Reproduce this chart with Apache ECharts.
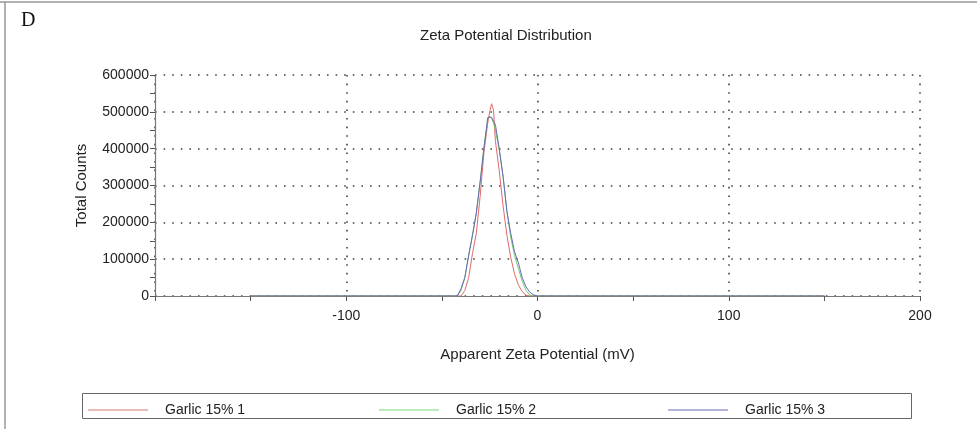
<!DOCTYPE html>
<html>
<head>
<meta charset="utf-8">
<script src="https://cdn.jsdelivr.net/npm/echarts@6/dist/echarts.min.js"></script>
<style>
  html, body { margin: 0; padding: 0; background: #fff; }
  #chart { width: 977px; height: 429px; }
</style>
</head>
<body>
<div id="chart"></div>
<script>
// Apparent zeta potential (mV) sample points
const potential = [-150, -44, -42, -40, -38, -36, -34, -32, -30, -28, -26, -25, -24, -23, -22, -20, -18, -16, -14, -12, -10, -8, -6, -4, -2, 0, 150];

// Total counts for each run
const run1 = [0, 0, 0, 0, 15000, 50000, 115000, 170000, 270000, 390000, 470000, 500000, 522000, 505000, 420000, 340000, 245000, 165000, 105000, 60000, 30000, 12000, 2000, 0, 0, 0, 0];
const run2 = [0, 0, 0, 15000, 50000, 110000, 165000, 225000, 310000, 405000, 480000, 488000, 482000, 470000, 450000, 395000, 325000, 230000, 160000, 110000, 75000, 40000, 15000, 2000, 0, 0, 0];
const run3 = [0, 0, 0, 20000, 50000, 110000, 165000, 225000, 310000, 400000, 485000, 485000, 485000, 485000, 465000, 400000, 325000, 230000, 170000, 120000, 90000, 50000, 25000, 10000, 3000, 0, 0];

const seriesNames = ['Garlic 15% 1', 'Garlic 15% 2', 'Garlic 15% 3'];
const seriesColors = ['#e06a6a', '#6ccc6c', '#6a6ab8'];
const legendColors = ['#e8a4a4', '#a4e4a4', '#9c9cd0'];

const xTicks = { min: -200, max: 200, interval: 100 };
const yTicks = { min: 0, max: 600000, interval: 100000 };

const pairs = v => potential.map((x, i) => [x, v[i]]);
const runs = [run1, run2, run3];

const chart = echarts.init(document.getElementById('chart'), null, { renderer: 'canvas' });

// sparse square dots for the grid
const dotted = { color: '#444', width: 1.6, type: [1.6, 7], cap: 'butt' };
const font = 'Liberation Sans, Arial, sans-serif';

chart.setOption({
  animation: false,
  backgroundColor: '#fff',
  title: {
    text: 'Zeta Potential Distribution',
    left: 415, top: 23,
    textStyle: { fontFamily: font, fontSize: 15, fontWeight: 'normal', color: '#222' }
  },
  grid: { left: 155, right: 57, top: 75, bottom: 133 },
  xAxis: {
    type: 'value',
    min: xTicks.min, max: xTicks.max, interval: xTicks.interval,
    name: 'Apparent Zeta Potential (mV)',
    nameLocation: 'middle', nameGap: 51,
    nameTextStyle: { fontFamily: font, fontSize: 15, color: '#222' },
    axisLine: { show: true, onZero: false, lineStyle: { color: '#777', width: 1.2 } },
    axisTick: { show: true, length: 5, lineStyle: { color: '#555' } },
    minorTick: { show: true, splitNumber: 2, length: 5, lineStyle: { color: '#555' } },
    axisLabel: {
      fontFamily: font, fontSize: 14, color: '#222', margin: 13,
      formatter: v => (v === xTicks.min ? '' : String(v))
    },
    splitLine: { show: true, lineStyle: dotted }
  },
  yAxis: {
    type: 'value',
    min: yTicks.min, max: yTicks.max, interval: yTicks.interval,
    name: 'Total Counts',
    nameLocation: 'middle', nameGap: 66, nameRotate: 90,
    nameTextStyle: { fontFamily: font, fontSize: 15, color: '#222' },
    axisLine: { show: true, onZero: false, lineStyle: { color: '#777', width: 1.2 } },
    axisTick: { show: true, length: 5, lineStyle: { color: '#555' } },
    minorTick: { show: true, splitNumber: 2, length: 5, lineStyle: { color: '#555' } },
    axisLabel: { fontFamily: font, fontSize: 14, color: '#222', margin: 6, formatter: v => String(v) },
    splitLine: { show: true, lineStyle: dotted }
  },
  legend: seriesNames.map((name, i) => ({
    data: [{ name, itemStyle: { color: legendColors[i] } }],
    left: [83, 374, 663][i], top: 398,
    icon: 'rect', itemWidth: 60, itemHeight: 1.5,
    textStyle: { fontFamily: font, fontSize: 14, color: '#222', padding: [0, 0, 0, 12] },
    selectedMode: false
  })),
  series: runs.map((v, i) => ({
    name: seriesNames[i],
    type: 'line',
    data: pairs(v),
    symbol: 'none',
    lineStyle: { color: seriesColors[i], width: 1 },
    itemStyle: { color: seriesColors[i] }
  })),
  graphic: [
    { type: 'line', shape: { x1: 0, y1: 2, x2: 977, y2: 2 }, style: { stroke: '#999', lineWidth: 1.5 } },
    { type: 'line', shape: { x1: 5, y1: 2, x2: 5, y2: 429 }, style: { stroke: '#999', lineWidth: 1.5 } },
    { type: 'rect', shape: { x: 82.5, y: 393.5, width: 829, height: 25 }, style: { fill: 'none', stroke: '#666', lineWidth: 1 } },
    { type: 'text', left: 21, top: 11, style: { text: 'D', fontFamily: 'Liberation Serif, Times New Roman, serif', fontSize: 20, fill: '#111' } }
  ]
});
</script>
</body>
</html>
